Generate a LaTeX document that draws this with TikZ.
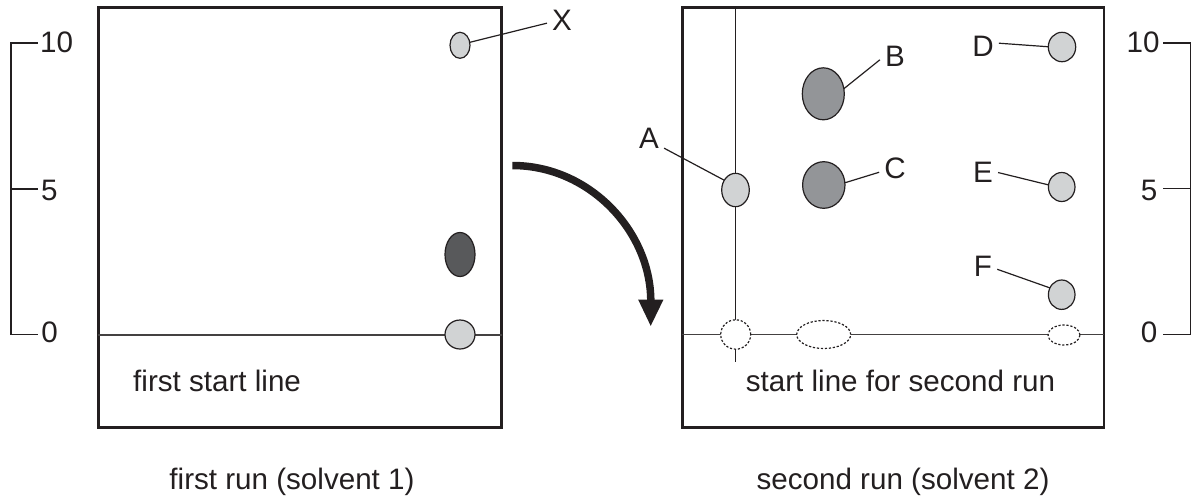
\documentclass[tikz,border=0pt]{standalone}
\usepackage{fontspec}
\setmainfont{Liberation Sans}
\usetikzlibrary{shapes.geometric,arrows.meta}
\definecolor{ink}{HTML}{231F20}
\definecolor{lightspot}{HTML}{D1D3D4}
\definecolor{midspot}{HTML}{939598}
\definecolor{darkspot}{HTML}{58595B}
\begin{document}
\begin{tikzpicture}[x=1pt,y=-1pt,
  every node/.style={font=\fontsize{29.6}{34}\selectfont, text=ink},
  plate/.style={draw=ink, line width=2.6pt},
  startline/.style={draw=ink!85, line width=1.6pt},
  vline/.style={draw=ink, line width=1.3pt},
  scaleline/.style={draw=ink, line width=1.3pt},
  spot/.style={ellipse, draw=ink, line width=1.2pt, inner sep=0pt, outer sep=0pt},
  ghost/.style={ellipse, draw=ink, dash pattern=on 2.2pt off 1.8pt, line width=1.2pt, fill=white, inner sep=0pt, outer sep=0pt},
  lbl/.style={inner sep=5pt},
  leader/.style={draw=ink, line width=1.2pt},
  bigarrow/.style={draw=ink, line width=7.5pt, -{Triangle[width=23pt,length=27pt]}}
]
\useasboundingbox (0,0) rectangle (1197,501);

% ---------- left scale ----------
\draw[scaleline] (37.7,43) -- (11,43) -- (11,334.3) -- (37.7,334.3);
\draw[scaleline] (11,189) -- (37.7,189);
\node (ls10) at (56.7,42.2) {10};
\node (ls5) at (49.3,190) {5};
\node (ls0) at (49.5,332.7) {0};

% ---------- right scale ----------
\draw[scaleline] (1163.3,43) -- (1190.7,43) -- (1190.7,334.3) -- (1163.3,334.3);
\draw[scaleline] (1163.3,188.5) -- (1190.7,188.5);
\node (rs10) at (1143,42.8) {10};
\node (rs5) at (1149.2,190.8) {5};
\node (rs0) at (1149,332.3) {0};

% ---------- left plate ----------
\draw[plate] (98.3,7.5) rectangle (501.7,427.5);
\draw[startline] (98.3,335) -- (501.7,335);
\node[spot, fill=lightspot, minimum width=20pt, minimum height=26pt] (Xs) at (460,45.3) {};
\node[spot, fill=darkspot, minimum width=30pt, minimum height=44pt] (Ys) at (460,254.5) {};
\node[spot, fill=lightspot, minimum width=30pt, minimum height=29pt] (Os) at (460,334.5) {};
\node[lbl] (Xl) at (562,20.5) {X};
\draw[leader] (Xs.17) -- (Xl.190);
\node[anchor=base west, inner sep=0pt] (fsl) at (133,391) {first start line};
\node[anchor=base, inner sep=0pt] (cap1) at (292,489) {first run (solvent 1)};

% ---------- arrow ----------
\coordinate (arrS) at (512.3,165.5);
\coordinate (arrE) at (650.7,326.7);
\draw[bigarrow] (arrS) .. controls (590,165.5) and (651,232) .. (arrE);

% ---------- right plate ----------
\draw[plate] (682.3,7.5) rectangle (1104,427.5);
\draw[startline] (682.3,334.5) -- (1104,334.5);
\draw[vline] (735.7,7.5) -- (735.7,362);
\node[ghost, minimum width=30pt, minimum height=29.4pt] (g1) at (735.7,334.5) {};
\node[ghost, minimum width=54pt, minimum height=28pt] (g2) at (823.7,334.5) {};
\node[ghost, minimum width=32pt, minimum height=20pt] (g3) at (1064,335) {};

\node[spot, fill=lightspot, minimum width=27.6pt, minimum height=33.4pt] (As) at (735.5,190) {};
\node[spot, fill=midspot, minimum width=42pt, minimum height=52pt] (Bs) at (823.3,93.8) {};
\node[spot, fill=midspot, minimum width=42.4pt, minimum height=46.6pt] (Cs) at (823.8,185) {};
\node[spot, fill=lightspot, minimum width=27.4pt, minimum height=29.4pt] (Ds) at (1062,47) {};
\node[spot, fill=lightspot, minimum width=26.6pt, minimum height=29pt] (Es) at (1061.7,187) {};
\node[spot, fill=lightspot, minimum width=26.6pt, minimum height=29.4pt] (Fs) at (1061.7,294.7) {};

\node[lbl] (Al) at (649,138) {A};
\node[lbl] (Bl) at (895,56) {B};
\node[lbl] (Cl) at (895,168) {C};
\node[lbl] (Dl) at (983,46) {D};
\node[lbl] (El) at (983,172) {E};
\node[lbl] (Fl) at (983,266) {F};

\draw[leader] (As.139) -- (Al.-34);
\draw[leader] (Bs.14) -- (Bl.194);
\draw[leader] (Cs.6) -- (Cl.195);
\draw[leader] (Ds.179) -- (Dl.10);
\draw[leader] (Es.171) -- (El.-2);
\draw[leader] (Fs.150) -- (Fl.-13);

\node[anchor=base, inner sep=0pt] (ssl) at (900.5,391) {start line for second run};
\node[anchor=base, inner sep=0pt] (cap2) at (903,489) {second run (solvent 2)};
\end{tikzpicture}
\end{document}
